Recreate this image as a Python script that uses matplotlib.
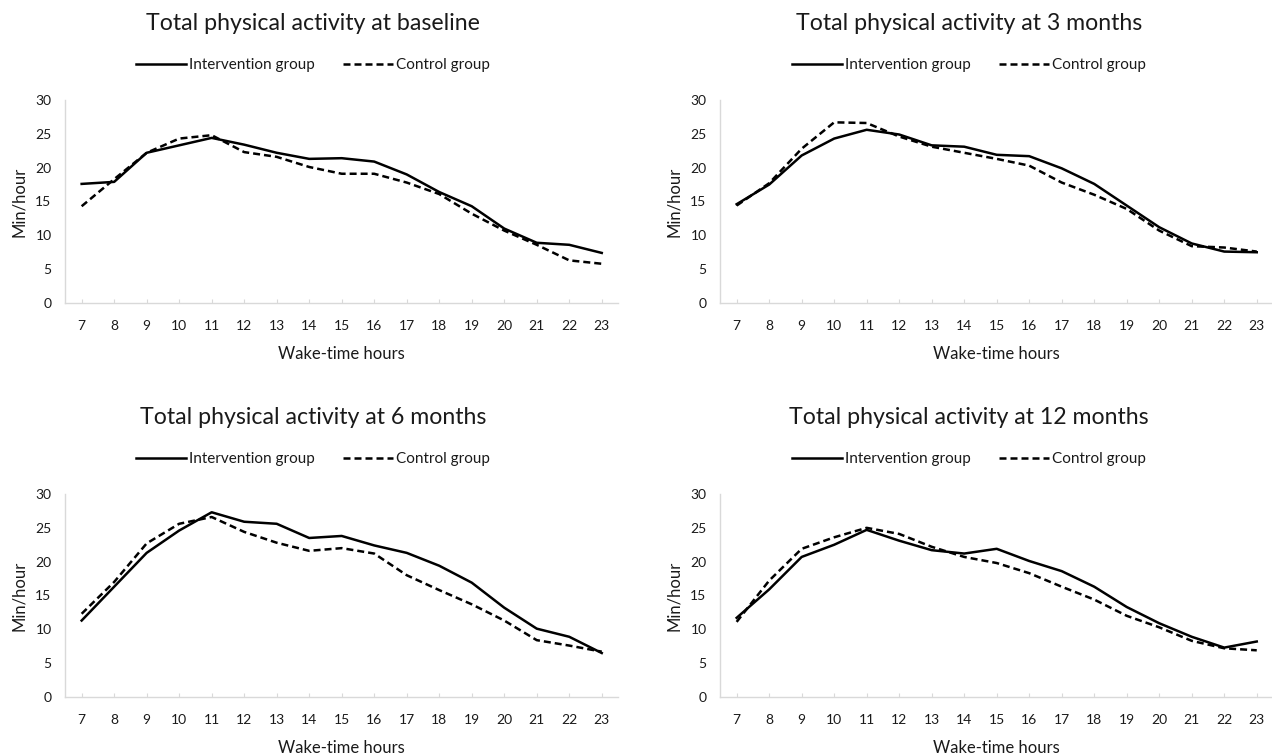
import matplotlib.pyplot as plt
import numpy as np

plt.rcParams['font.family'] = ['Lato', 'DejaVu Sans']

hours = list(range(7, 24))

# minutes of activity per wake-time hour, one list per visit
base_int = [17.6, 17.9, 22.2, 23.3, 24.4, 23.4, 22.2, 21.3, 21.4, 20.9, 19.0, 16.4, 14.3, 11.0, 8.9, 8.6, 7.4]
base_ctl = [14.3, 18.3, 22.2, 24.3, 24.8, 22.3, 21.6, 20.1, 19.1, 19.1, 17.8, 16.1, 13.2, 10.7, 8.6, 6.3, 5.8]

m3_int = [14.6, 17.5, 21.8, 24.3, 25.6, 24.9, 23.3, 23.1, 21.9, 21.7, 19.9, 17.6, 14.4, 11.2, 8.8, 7.6, 7.5]
m3_ctl = [14.4, 17.7, 22.8, 26.7, 26.6, 24.6, 23.1, 22.2, 21.3, 20.3, 17.8, 16.0, 13.9, 10.7, 8.4, 8.2, 7.6]

m6_int = [11.3, 16.3, 21.3, 24.6, 27.3, 25.9, 25.6, 23.5, 23.8, 22.4, 21.3, 19.4, 16.9, 13.2, 10.1, 8.9, 6.5]
m6_ctl = [12.3, 17.0, 22.7, 25.6, 26.6, 24.4, 22.8, 21.6, 22.0, 21.2, 18.0, 15.8, 13.7, 11.3, 8.4, 7.6, 6.7]

m12_int = [11.7, 15.9, 20.7, 22.5, 24.7, 23.1, 21.7, 21.2, 21.9, 20.1, 18.6, 16.3, 13.3, 10.9, 8.9, 7.3, 8.2]
m12_ctl = [11.1, 17.2, 21.9, 23.6, 25.0, 24.1, 22.2, 20.7, 19.8, 18.3, 16.3, 14.4, 12.0, 10.3, 8.3, 7.2, 6.9]

titles = ['Total physical activity at baseline', 'Total physical activity at 3 months',
          'Total physical activity at 6 months', 'Total physical activity at 12 months']

W, H = 1272, 753
fig = plt.figure(figsize=(W / 100, H / 100), dpi=100)

txt = '#1a1a1a'
axcol = '#d9d9d9'

panels = [
    (base_int, base_ctl, 65.4, 303, 313),
    (m3_int, m3_ctl, 720.4, 303, 969),
    (m6_int, m6_ctl, 65.4, 697, 313),
    (m12_int, m12_ctl, 720.4, 697, 969),
]

for (yi, yc, left, bottom, cx), title in zip(panels, titles):
    ax = fig.add_axes([left / W, (H - bottom) / H, 552.6 / W, 203 / H])
    ax.plot(hours, yi, color='black', lw=1.8, label='Intervention group')
    ax.plot(hours, yc, color='black', lw=1.8, linestyle=(0, (2.8, 1.6)), label='Control group')
    ax.set_xlim(6.5, 23.5)
    ax.set_ylim(0, 30)
    ax.set_xticks(hours)
    ax.set_yticks(range(0, 31, 5))
    for s in ['top', 'right']:
        ax.spines[s].set_visible(False)
    ax.spines['left'].set_color(axcol)
    ax.spines['bottom'].set_color(axcol)
    ax.spines['left'].set_linewidth(1)
    ax.spines['bottom'].set_linewidth(1)
    ax.tick_params(axis='y', length=0, pad=10, labelsize=10, labelcolor=txt)
    ax.tick_params(axis='x', direction='in', length=3, color=axcol, pad=12, labelsize=10, labelcolor=txt)
    ax.set_ylabel('Min/hour', fontsize=12, color=txt, labelpad=6)
    ax.set_xlabel('Wake-time hours', fontsize=12, color=txt, labelpad=10)

    fig.text(cx / W, 1 - (bottom - 279) / H, title, fontsize=16.7, color=txt, ha='center', va='center')
    ax.legend(loc='center', bbox_to_anchor=(cx / W, 1 - (bottom - 238) / H),
              bbox_transform=fig.transFigure, ncol=2, frameon=False, fontsize=11,
              handlelength=3.3, handletextpad=0.2, columnspacing=1.8, labelcolor=txt)

fig.savefig('out.png', dpi=100)
